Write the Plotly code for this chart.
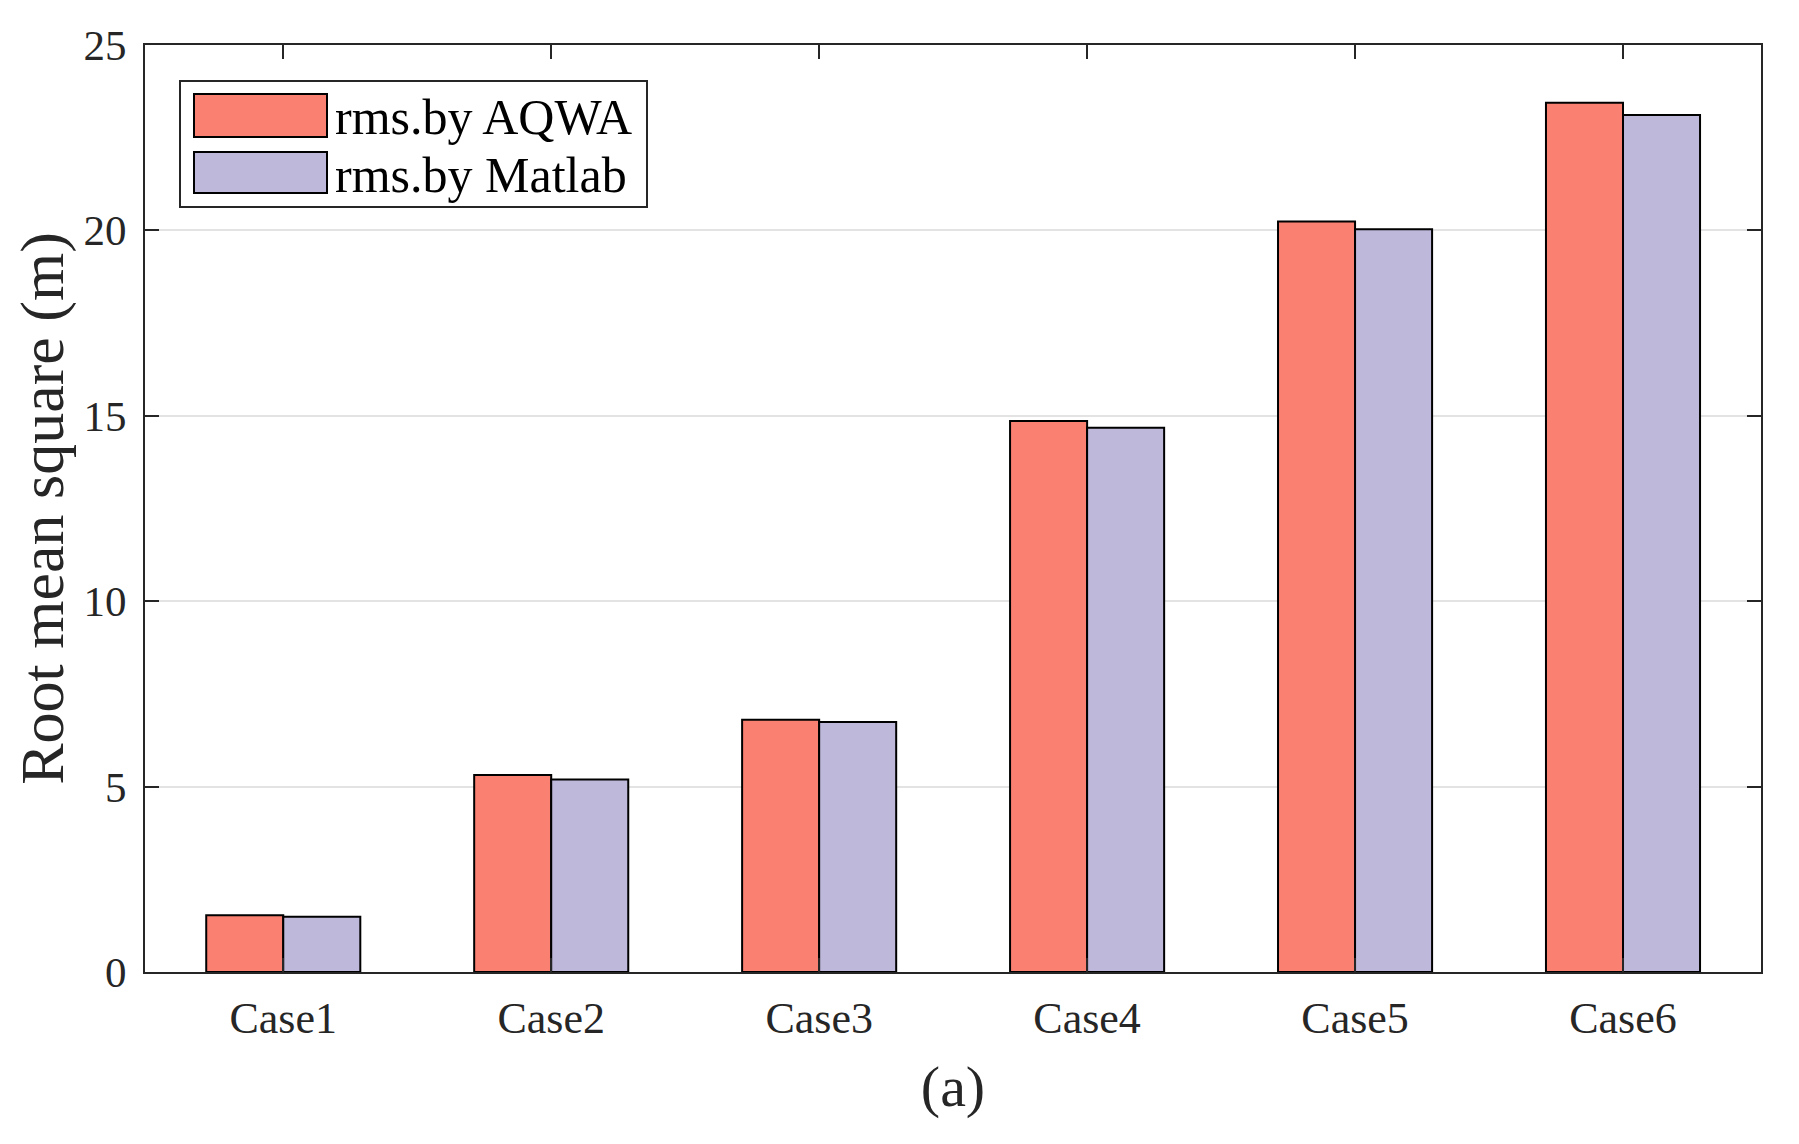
import plotly.graph_objects as go

categories = ["Case1", "Case2", "Case3", "Case4", "Case5", "Case6"]
rms_aqwa = [1.53, 5.31, 6.80, 14.86, 20.24, 23.44]
rms_matlab = [1.49, 5.19, 6.74, 14.68, 20.03, 23.11]
series_names = ["rms.by AQWA", "rms.by Matlab"]
series_colors = ["#FA8072", "#BEB9DB"]
y_ticks = [0, 5, 10, 15, 20, 25]

FONT = "Liberation Serif"
TXT = "#262626"

fig = go.Figure()
for name, vals, col in zip(series_names, [rms_aqwa, rms_matlab], series_colors):
    fig.add_trace(go.Bar(x=categories, y=vals, name=name, showlegend=False,
                         marker=dict(color=col, line=dict(color="black", width=2))))

# page body has an 8px margin: compensate so the plot area lands at 145..1761 x 45..972
fig.update_layout(
    width=1783, height=1128,
    margin=dict(l=137, r=30, t=37, b=164, autoexpand=False),
    paper_bgcolor="white", plot_bgcolor="white",
    barmode="group", bargap=0.425, bargroupgap=0,
    font=dict(family=FONT, color=TXT),
)
fig.update_xaxes(
    type="category", categoryorder="array", categoryarray=categories,
    range=[-0.516, 5.515], showline=True, linecolor=TXT, linewidth=2,
    mirror="ticks", ticks="inside", ticklen=14, tickwidth=2, tickcolor=TXT,
    tickfont=dict(family=FONT, size=44, color=TXT), showgrid=False,
    ticklabelstandoff=6,
    title=dict(text="(a)", font=dict(family=FONT, size=58, color=TXT), standoff=24),
    automargin=False,
)
fig.update_yaxes(
    range=[0, 25], tickvals=y_ticks, showline=True, linecolor=TXT, linewidth=2,
    mirror="ticks", ticks="inside", ticklen=14, tickwidth=2, tickcolor=TXT,
    tickfont=dict(family=FONT, size=43, color=TXT), ticklabelstandoff=8,
    showgrid=True, gridcolor="#E3E3E3", gridwidth=2, zeroline=False,
    title=dict(text="Root mean square (m)", font=dict(family=FONT, size=62, color=TXT), standoff=14),
    automargin=False,
)

# Legend (drawn manually to match wide swatches); coordinates in page pixels
x0p, pw, y0p, ph = 145, 1616, 972, 927
def px(x):
    return (x - x0p) / pw
def py(y):
    return (y0p - y) / ph

shapes = [dict(type="rect", xref="paper", yref="paper", x0=px(180), x1=px(647), y0=py(207), y1=py(81),
               line=dict(color=TXT, width=2), fillcolor="white", layer="above")]
rows = [(94, 137), (152, 193)]
for (ya, yb), col, name in zip(rows, series_colors, series_names):
    shapes.append(dict(type="rect", xref="paper", yref="paper", x0=px(194), x1=px(327), y0=py(yb), y1=py(ya),
                       line=dict(color="black", width=2), fillcolor=col, layer="above"))
    fig.add_annotation(xref="paper", yref="paper", x=px(333), y=py((ya + yb) / 2 + 2),
                       xanchor="left", yanchor="middle", showarrow=False, text=name,
                       font=dict(family=FONT, size=50, color="black"))
fig.update_layout(shapes=shapes)

fig.write_html("out.html")
